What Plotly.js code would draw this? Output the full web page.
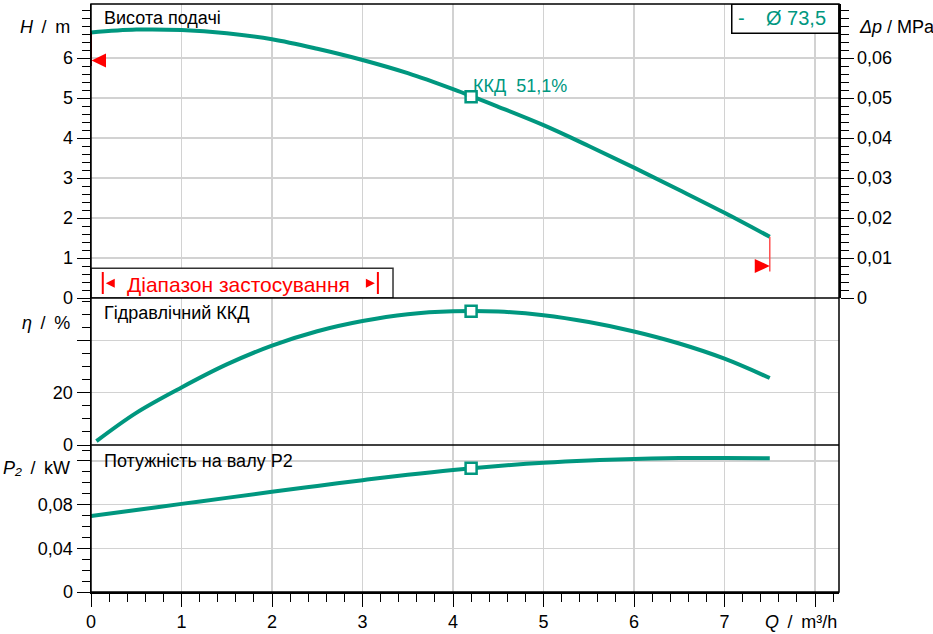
<!DOCTYPE html>
<html>
<head>
<meta charset="utf-8">
<script src="https://cdn.plot.ly/plotly-3.0.1.min.js"></script>
<style>
html,body{margin:0;padding:0;background:#fff;}
#chart{width:933px;height:634px;}
</style>
</head>
<body>
<div id="chart"></div>
<script>
// ---- data ----
const Q = [0, 0.5, 1, 1.5, 2, 2.5, 3, 3.5, 4, 4.5, 5, 5.5, 6, 6.5, 7, 7.5];
const headH = [6.64, 6.71, 6.70, 6.62, 6.47, 6.23, 5.95, 5.62, 5.22, 4.78, 4.32, 3.80, 3.26, 2.70, 2.13, 1.53];
const Q_eta = [0.06, 0.5, 1, 1.5, 2, 2.5, 3, 3.5, 4, 4.5, 5, 5.5, 6, 6.5, 7, 7.5];
const eta = [1.5, 12.3, 22.0, 30.8, 38.0, 43.5, 47.4, 50.0, 51.1, 51.0, 49.6, 47.0, 43.4, 38.8, 33.0, 25.6];
const powerP2 = [0.0696, 0.0751, 0.0807, 0.0862, 0.0917, 0.0971, 0.1024, 0.1074, 0.1118, 0.1154, 0.1183, 0.1204, 0.1218, 0.1226, 0.1228, 0.1225];

const bepQ = [4.2];
const bepH = [5.03];
const bepEta = [51.1];
const bepP = [0.1133];
const bepLabel = 'ККД  51,1%';

const dutyH = 5.94;        // red marker on head axis
const dutyMinH = 0.8;      // red marker at curve end
const rangeQmin = 0.13;    // application range
const rangeQmax = 3.17;
const impeller = 'Ø 73,5';

const xTickVals = [0, 1, 2, 3, 4, 5, 6, 7, 8];
const xTickText = ['0', '1', '2', '3', '4', '5', '6', '7', ''];
const hTickVals = [0, 1, 2, 3, 4, 5, 6];
const hTickText = ['0', '1', '2', '3', '4', '5', '6'];
const pTickVals = [0, 0.01, 0.02, 0.03, 0.04, 0.05, 0.06];
const pTickText = ['0', '0,01', '0,02', '0,03', '0,04', '0,05', '0,06'];
const etaTickVals = [0, 20, 40];
const etaTickText = ['0', '20', ''];
const p2TickVals = [0, 0.04, 0.08, 0.12];
const p2TickText = ['0', '0,04', '0,08', ''];

// ---- style ----
const TEAL = '#00977f';
const GRID = '#d2d2d2';
const FONT = 'Arial, "Liberation Sans", sans-serif';
const XMAX = 8.265, HMAX = 7.35, ETAMAX = 56.2, P2MAX = 0.1346;
const SP = ' \u2009';

function yax(extra) {
  return Object.assign({
    ticks: 'outside', ticklen: 13, tickwidth: 1, tickcolor: '#000',
    showline: true, linecolor: '#000', linewidth: 1.5,
    showgrid: true, gridcolor: GRID, gridwidth: 1.5, zeroline: false,
    tickmode: 'array', fixedrange: true
  }, extra);
}

const lineStyle = {color: TEAL, width: 4, shape: 'spline', smoothing: 1};
const markStyle = {symbol: 'square', size: 11, color: '#fff', line: {color: TEAL, width: 2.5}};

const traces = [
  {x: Q, y: headH, xaxis: 'x', yaxis: 'y3', mode: 'lines', line: lineStyle, hoverinfo: 'skip'},
  {x: Q_eta, y: eta, xaxis: 'x', yaxis: 'y2', mode: 'lines', line: lineStyle, hoverinfo: 'skip'},
  {x: Q, y: powerP2, xaxis: 'x', yaxis: 'y', mode: 'lines', line: lineStyle, hoverinfo: 'skip'},
  {x: bepQ, y: bepH, xaxis: 'x', yaxis: 'y3', mode: 'markers', marker: markStyle, hoverinfo: 'skip'},
  {x: bepQ, y: bepEta, xaxis: 'x', yaxis: 'y2', mode: 'markers', marker: markStyle, hoverinfo: 'skip'},
  {x: bepQ, y: bepP, xaxis: 'x', yaxis: 'y', mode: 'markers', marker: markStyle, hoverinfo: 'skip'},
  {x: [0], y: [0], xaxis: 'x', yaxis: 'y4', mode: 'markers', marker: {opacity: 0}, hoverinfo: 'skip'}
];

const lastQ = Q[Q.length - 1];
const lastH = headH[headH.length - 1];

const shapes = [
  // application range box
  {type: 'rect', xref: 'x', yref: 'y3', x0: 0, x1: 3.337, y0: 0, y1: 0.745,
   fillcolor: '#fff', line: {color: '#333', width: 1.5}},
  {type: 'line', xref: 'x', yref: 'y3', x0: rangeQmin, x1: rangeQmin, y0: 0.1, y1: 0.65, line: {color: '#ff0000', width: 2}},
  {type: 'line', xref: 'x', yref: 'y3', x0: rangeQmax, x1: rangeQmax, y0: 0.1, y1: 0.65, line: {color: '#ff0000', width: 2}},
  {type: 'path', xref: 'x', yref: 'y3', xsizemode: 'pixel', ysizemode: 'pixel', xanchor: rangeQmin, yanchor: 0.37,
   path: 'M3,0 L12,4.5 L12,-4.5 Z', fillcolor: '#ff0000', line: {width: 0}},
  {type: 'path', xref: 'x', yref: 'y3', xsizemode: 'pixel', ysizemode: 'pixel', xanchor: rangeQmax, yanchor: 0.37,
   path: 'M-3,0 L-12,4.5 L-12,-4.5 Z', fillcolor: '#ff0000', line: {width: 0}},
  // legend box
  {type: 'rect', xref: 'x', yref: 'y3', x0: 7.08, x1: XMAX, y0: 6.62, y1: HMAX,
   fillcolor: '#fff', line: {color: '#000', width: 1.5}},
  // duty markers
  {type: 'line', xref: 'x', yref: 'y3', x0: 0, x1: 0, y0: 5.8, y1: headH[0], line: {color: '#8b0000', width: 2}},
  {type: 'path', xref: 'x', yref: 'y3', xsizemode: 'pixel', ysizemode: 'pixel', xanchor: 0, yanchor: dutyH,
   path: 'M0.5,0 L15,7 L15,-7 Z', fillcolor: '#ff0000', line: {width: 0}},
  {type: 'line', xref: 'x', yref: 'y3', x0: lastQ, x1: lastQ, y0: 0.66, y1: lastH, line: {color: '#ff5050', width: 1.5}},
  {type: 'path', xref: 'x', yref: 'y3', xsizemode: 'pixel', ysizemode: 'pixel', xanchor: lastQ, yanchor: dutyMinH,
   path: 'M0,0 L-15,7 L-15,-7 Z', fillcolor: '#ff0000', line: {width: 0}},
  // panel borders
  {type: 'rect', xref: 'paper', yref: 'paper', x0: 0, x1: 1, y0: 0, y1: 1, line: {color: '#000', width: 1.5}},
  {type: 'line', xref: 'paper', yref: 'paper', x0: 0, x1: 1, y0: 0.5, y1: 0.5, line: {color: '#000', width: 1.5}},
  {type: 'line', xref: 'paper', yref: 'paper', x0: 0, x1: 1, y0: 0.25, y1: 0.25, line: {color: '#000', width: 1.5}}
];

const ann = (o) => Object.assign({showarrow: false, font: {family: FONT, size: 18, color: '#000'}}, o);

const annotations = [
  ann({text: 'Висота подачі', xref: 'paper', yref: 'y3', x: 0.0147, y: 7.0, xanchor: 'left', yanchor: 'middle'}),
  ann({text: 'Гідравлічний ККД', xref: 'paper', yref: 'y2', x: 0.0147, y: 50.5, xanchor: 'left', yanchor: 'middle'}),
  ann({text: 'Потужність на валу P2', xref: 'paper', yref: 'y', x: 0.0147, y: 0.12, xanchor: 'left', yanchor: 'middle'}),
  ann({text: '<i>H</i>' + SP + '/' + SP + 'm', xref: 'paper', yref: 'y3', x: -0.0254, y: 6.775, xanchor: 'right', yanchor: 'middle'}),
  ann({text: '<i>η</i>' + SP + '/' + SP + '%', xref: 'paper', yref: 'y2', x: -0.0254, y: 46.8, xanchor: 'right', yanchor: 'middle'}),
  ann({text: '<i>P₂</i>' + SP + '/' + SP + 'kW', xref: 'paper', yref: 'y', x: -0.0254, y: 0.1138, xanchor: 'right', yanchor: 'middle'}),
  ann({text: '<i>Δp</i> / MPa', xref: 'paper', yref: 'y3', x: 1.0235, y: 6.775, xanchor: 'left', yanchor: 'middle'}),
  ann({text: '<i>Q</i>' + SP + '/' + SP + 'm³/h', xref: 'paper', yref: 'paper', x: 1, y: -0.051, xanchor: 'right', yanchor: 'middle'}),
  ann({text: bepLabel, xref: 'x', yref: 'y3', x: bepQ[0], y: 5.3, xanchor: 'left', yanchor: 'middle',
       font: {family: FONT, size: 18, color: TEAL}}),
  ann({text: '-', xref: 'x', yref: 'y3', x: 7.19, y: 7.0, xanchor: 'center', yanchor: 'middle',
       font: {family: FONT, size: 20, color: TEAL}}),
  ann({text: impeller, xref: 'x', yref: 'y3', x: 8.14, y: 7.0, xanchor: 'right', yanchor: 'middle',
       font: {family: FONT, size: 20, color: TEAL}}),
  ann({text: 'Діапазон застосування', xref: 'x', yref: 'y3', x: (rangeQmin + rangeQmax) / 2 - 0.02, y: 0.33,
       xanchor: 'center', yanchor: 'middle', font: {family: FONT, size: 21, color: '#ff0000'}})
];

const layout = {
  width: 933, height: 634,
  margin: {l: 91, r: 94, t: 4, b: 42, pad: 0},
  paper_bgcolor: '#fff', plot_bgcolor: '#fff',
  showlegend: false,
  font: {family: FONT, size: 18, color: '#000'},
  xaxis: {
    domain: [0, 1], anchor: 'y', range: [0, XMAX],
    tickmode: 'array', tickvals: xTickVals, ticktext: xTickText,
    ticks: 'outside', ticklen: 13, tickwidth: 1, tickcolor: '#000',
    minor: {dtick: 0.2, tick0: 0, ticks: 'outside', ticklen: 8, tickwidth: 1, tickcolor: '#000', showgrid: false},
    showline: true, linecolor: '#000', linewidth: 1.5,
    showgrid: true, gridcolor: GRID, gridwidth: 1.5, zeroline: false, fixedrange: true
  },
  yaxis: yax({domain: [0, 0.25], anchor: 'x', range: [0, P2MAX], tickvals: p2TickVals, ticktext: p2TickText,
              minor: {dtick: 0.01, tick0: 0, ticks: 'outside', ticklen: 8, tickwidth: 1, tickcolor: '#000', showgrid: false}}),
  yaxis2: yax({domain: [0.25, 0.5], anchor: 'x', range: [0, ETAMAX], tickvals: etaTickVals, ticktext: etaTickText,
               minor: {dtick: 5, tick0: 0, ticks: 'outside', ticklen: 8, tickwidth: 1, tickcolor: '#000', showgrid: false}}),
  yaxis3: yax({domain: [0.5, 1], anchor: 'x', range: [0, HMAX], tickvals: hTickVals, ticktext: hTickText,
               minor: {dtick: 0.2, tick0: 0, ticks: 'outside', ticklen: 8, tickwidth: 1, tickcolor: '#000', showgrid: false}}),
  yaxis4: yax({overlaying: 'y3', side: 'right', anchor: 'x', range: [0, HMAX / 100], tickvals: pTickVals, ticktext: pTickText,
               showgrid: false,
               minor: {dtick: 0.002, tick0: 0, ticks: 'outside', ticklen: 8, tickwidth: 1, tickcolor: '#000', showgrid: false}}),
  shapes: shapes,
  annotations: annotations
};

Plotly.newPlot('chart', traces, layout, {staticPlot: true, displayModeBar: false});
</script>
</body>
</html>
